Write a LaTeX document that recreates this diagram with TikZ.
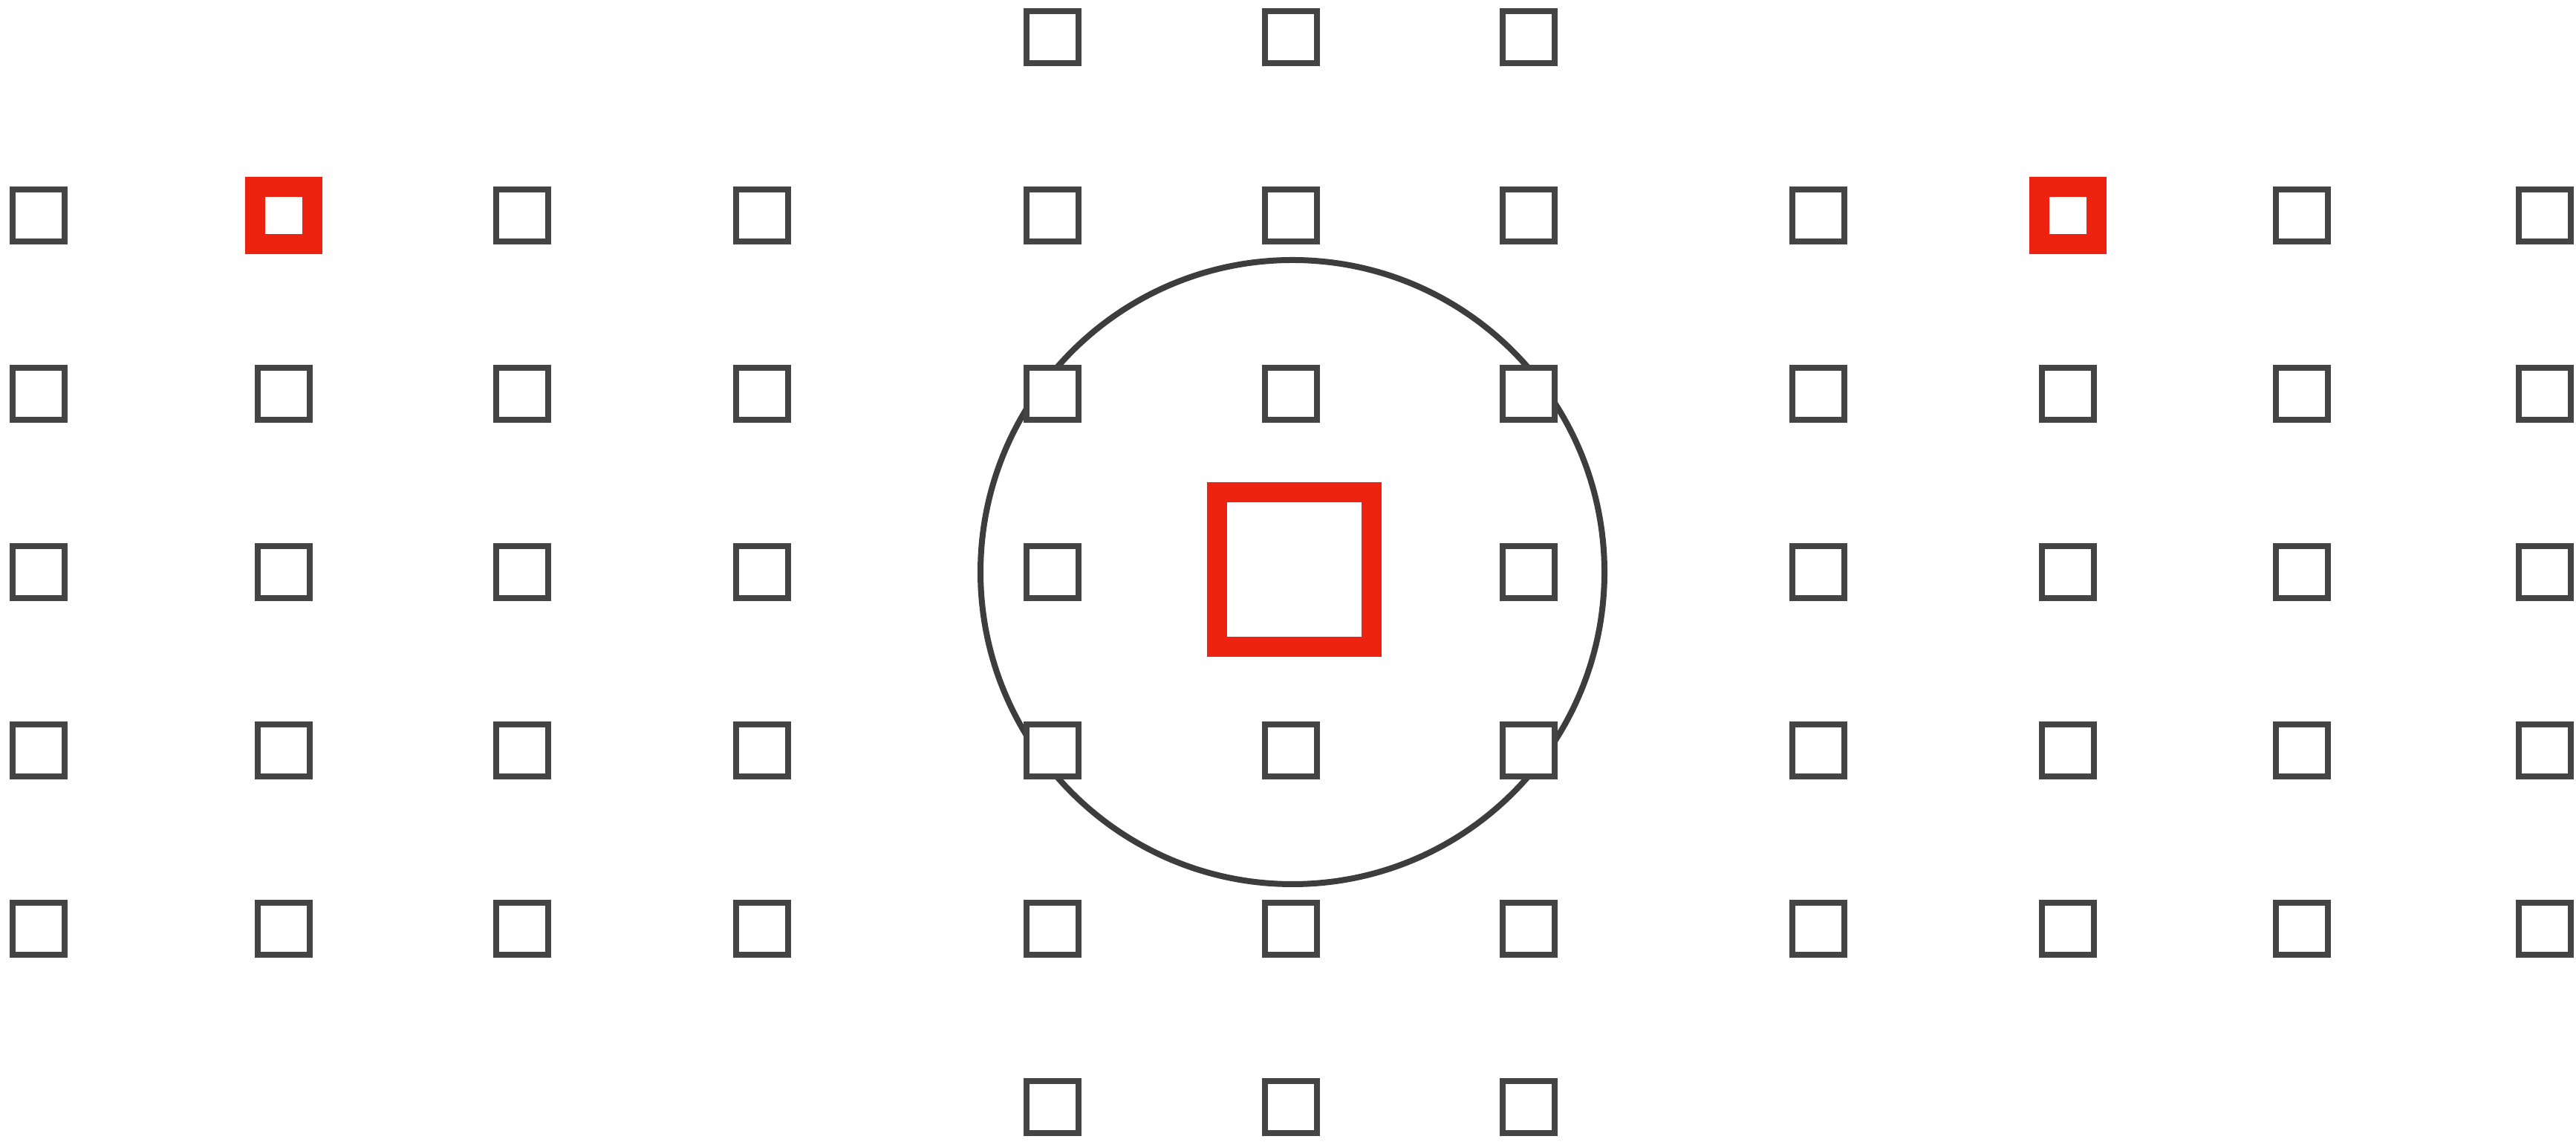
\documentclass[tikz,border=0pt]{standalone}
\usepackage{tikz}
\usetikzlibrary{positioning}

\definecolor{hitred}{HTML}{EE2211}
\definecolor{cellgray}{HTML}{444444}

\begin{document}
\begin{tikzpicture}[
    cell/.style={draw=cellgray, fill=white, line width=0.08cm, minimum size=0.70cm, inner sep=0pt},
    hit/.style={draw=hitred, fill=white, line width=0.27cm, minimum size=0.77cm, inner sep=0pt},
    target/.style={draw=hitred, fill=white, line width=0.27cm, minimum size=2.08cm, inner sep=0pt},
    ring/.style={draw=cellgray!90!black, circle, line width=0.08cm, minimum size=8.4cm, inner sep=0pt}]
    \useasboundingbox (0,0) rectangle (34.68,15.37);
    % search radius round the query cell
    \node[ring] (range) at (17.40,7.67) {};
    % left block
    \node[cell] (l11) at (0.52,12.47) {};
    \node[hit] (l12) at (3.82,12.47) {};
    \node[cell] (l13) at (7.03,12.47) {};
    \node[cell] (l14) at (10.26,12.47) {};
    \node[cell] (l21) at (0.52,10.07) {};
    \node[cell] (l22) at (3.82,10.07) {};
    \node[cell] (l23) at (7.03,10.07) {};
    \node[cell] (l24) at (10.26,10.07) {};
    \node[cell] (l31) at (0.52,7.67) {};
    \node[cell] (l32) at (3.82,7.67) {};
    \node[cell] (l33) at (7.03,7.67) {};
    \node[cell] (l34) at (10.26,7.67) {};
    \node[cell] (l41) at (0.52,5.27) {};
    \node[cell] (l42) at (3.82,5.27) {};
    \node[cell] (l43) at (7.03,5.27) {};
    \node[cell] (l44) at (10.26,5.27) {};
    \node[cell] (l51) at (0.52,2.87) {};
    \node[cell] (l52) at (3.82,2.87) {};
    \node[cell] (l53) at (7.03,2.87) {};
    \node[cell] (l54) at (10.26,2.87) {};
    % middle block
    \node[cell] (m01) at (14.17,14.87) {};
    \node[cell] (m02) at (17.38,14.87) {};
    \node[cell] (m03) at (20.58,14.87) {};
    \node[cell] (m11) at (14.17,12.47) {};
    \node[cell] (m12) at (17.38,12.47) {};
    \node[cell] (m13) at (20.58,12.47) {};
    \node[cell] (m21) at (14.17,10.07) {};
    \node[cell] (m22) at (17.38,10.07) {};
    \node[cell] (m23) at (20.58,10.07) {};
    \node[cell] (m31) at (14.17,7.67) {};
    \node[target] (query) at (17.42,7.70) {};
    \node[cell] (m33) at (20.58,7.67) {};
    \node[cell] (m41) at (14.17,5.27) {};
    \node[cell] (m42) at (17.38,5.27) {};
    \node[cell] (m43) at (20.58,5.27) {};
    \node[cell] (m51) at (14.17,2.87) {};
    \node[cell] (m52) at (17.38,2.87) {};
    \node[cell] (m53) at (20.58,2.87) {};
    \node[cell] (m61) at (14.17,0.47) {};
    \node[cell] (m62) at (17.38,0.47) {};
    \node[cell] (m63) at (20.58,0.47) {};
    % right block
    \node[cell] (r11) at (24.48,12.47) {};
    \node[hit] (r12) at (27.84,12.47) {};
    \node[cell] (r13) at (30.99,12.47) {};
    \node[cell] (r14) at (34.26,12.47) {};
    \node[cell] (r21) at (24.48,10.07) {};
    \node[cell] (r22) at (27.84,10.07) {};
    \node[cell] (r23) at (30.99,10.07) {};
    \node[cell] (r24) at (34.26,10.07) {};
    \node[cell] (r31) at (24.48,7.67) {};
    \node[cell] (r32) at (27.84,7.67) {};
    \node[cell] (r33) at (30.99,7.67) {};
    \node[cell] (r34) at (34.26,7.67) {};
    \node[cell] (r41) at (24.48,5.27) {};
    \node[cell] (r42) at (27.84,5.27) {};
    \node[cell] (r43) at (30.99,5.27) {};
    \node[cell] (r44) at (34.26,5.27) {};
    \node[cell] (r51) at (24.48,2.87) {};
    \node[cell] (r52) at (27.84,2.87) {};
    \node[cell] (r53) at (30.99,2.87) {};
    \node[cell] (r54) at (34.26,2.87) {};
  \end{tikzpicture}
\end{document}
